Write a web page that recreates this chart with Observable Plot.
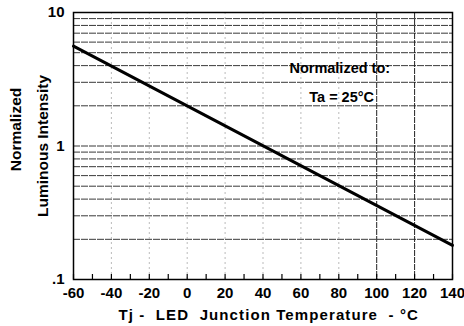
<!DOCTYPE html>
<html><head><meta charset="utf-8">
<script src="https://cdn.jsdelivr.net/npm/d3@7"></script>
<script src="https://cdn.jsdelivr.net/npm/@observablehq/plot@0.6"></script>
<style>body{margin:0;background:#fff;font-family:"Liberation Sans",Arial,sans-serif;}
text{white-space:pre;}</style>
</head><body><div id="chart"></div>
<script>
const temps = [-60, 140];
const intensity = [5.6, 0.18];
const xTicks = [-60, -40, -20, 0, 20, 40, 60, 80, 100, 120, 140];
const xMinorTicks = d3.range(-60, 141, 10);
const yTicks = [0.1, 1, 10];
const yTickLabels = [".1", "1", "10"];
const yGrid = [];
for (const d of [0.1, 1]) for (let k = 2; k <= 9; k++) yGrid.push(+(d * k).toFixed(2));
const xGridLight = [-40, -20, 0, 20, 40, 60, 80];
const xGridDark = [100, 120];

const data = temps.map((t, i) => ({t, v: intensity[i]}));

const chart = Plot.plot({
  width: 464, height: 326,
  marginLeft: 73, marginRight: 12, marginTop: 12, marginBottom: 47,
  style: {fontFamily: "'Liberation Sans', Arial, sans-serif", background: "#fff"},
  x: {domain: [-60, 140]},
  y: {type: "log", domain: [0.1, 10]},
  marks: [
    Plot.ruleY(yGrid, {stroke: "#222", strokeWidth: 0.9, strokeDasharray: "7,1"}),
    Plot.ruleX(xGridLight, {stroke: "#aaa", strokeWidth: 0.8, strokeDasharray: "2,3"}),
    Plot.ruleX(xGridDark, {stroke: "#222", strokeWidth: 1, strokeDasharray: "6,1"}),
    Plot.ruleY([1], {stroke: "#222", strokeWidth: 0.9, strokeDasharray: "7,1"}),
    Plot.ruleX(xMinorTicks, {y1: 0.1, y2: 0.109, stroke: "#000", strokeWidth: 1.2}),
    Plot.frame({stroke: "#000", strokeWidth: 1.5}),
    Plot.line(data, {x: "t", y: "v", stroke: "#000", strokeWidth: 3}),
    Plot.axisX({ticks: xTicks, tickFormat: d => String(d), tickSize: 0, tickPadding: 8, fontSize: 15, fontWeight: "bold", label: null}),
    Plot.axisY({ticks: yTicks, tickFormat: d => yTickLabels[yTicks.indexOf(d)], tickSize: 0, tickPadding: 9, fontSize: 15, fontWeight: "bold", label: null}),
    Plot.text(["Tj -  LED  Junction Temperature  - °C"], {x: 43, frameAnchor: "bottom", dy: 40, fontSize: 15, fontWeight: "bold", fill: "#000", className: "xtitle"}),
    Plot.text(["Normalized"], {frameAnchor: "left", dx: -57, dy: -16.5, rotate: -90, textAnchor: "middle", fontSize: 15.5, fontWeight: "bold", fill: "#000"}),
    Plot.text(["Luminous Intensity"], {frameAnchor: "left", dx: -30, dy: 0, rotate: -90, textAnchor: "middle", fontSize: 15.5, fontWeight: "bold", fill: "#000"}),
    Plot.text(["Normalized to:"], {x: 80.5, y: 3.8, fontSize: 14.5, fontWeight: "bold", fill: "#000"}),
    Plot.text(["Ta = 25°C"], {x: 81.5, y: 2.31, fontSize: 14.5, fontWeight: "bold", fill: "#000"})
  ]
});
d3.select(chart).selectAll("g.xtitle text").attr("letter-spacing", "1.1px");
document.getElementById("chart").append(chart);
</script></body></html>
